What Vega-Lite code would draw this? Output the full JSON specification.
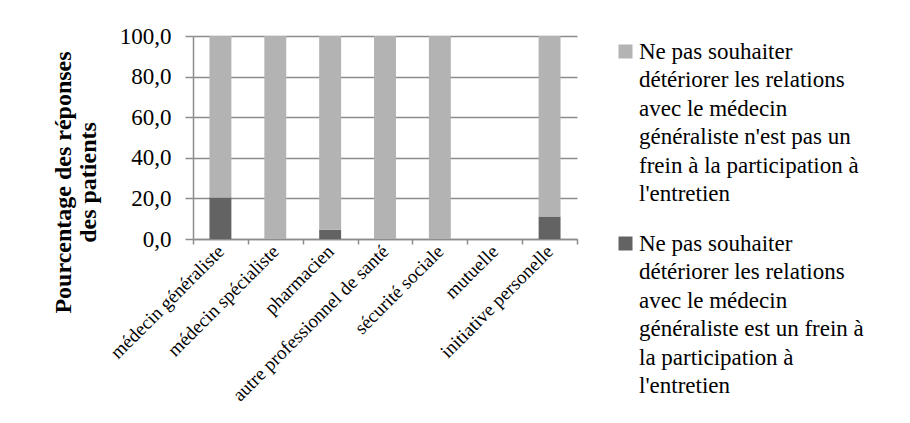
{
  "$schema": "https://vega.github.io/schema/vega-lite/v6.json",
  "autosize": "none",
  "width": 384,
  "height": 203,
  "padding": {"left": 193, "top": 36, "right": 333, "bottom": 184},
  "background": "white",
  "config": {
    "view": {"stroke": null},
    "font": "Liberation Serif",
    "legend": {"labelFont": "Liberation Serif"}
  },
  "data": {
    "values": [
      {"categorie": "médecin généraliste", "serie": "Ne pas souhaiter détériorer les relations avec le médecin généraliste est un frein à la participation à l'entretien", "pourcentage": 20.5},
      {"categorie": "médecin généraliste", "serie": "Ne pas souhaiter détériorer les relations avec le médecin généraliste n'est pas un frein à la participation à l'entretien", "pourcentage": 79.5},
      {"categorie": "médecin spécialiste", "serie": "Ne pas souhaiter détériorer les relations avec le médecin généraliste est un frein à la participation à l'entretien", "pourcentage": 0},
      {"categorie": "médecin spécialiste", "serie": "Ne pas souhaiter détériorer les relations avec le médecin généraliste n'est pas un frein à la participation à l'entretien", "pourcentage": 100},
      {"categorie": "pharmacien", "serie": "Ne pas souhaiter détériorer les relations avec le médecin généraliste est un frein à la participation à l'entretien", "pourcentage": 4.5},
      {"categorie": "pharmacien", "serie": "Ne pas souhaiter détériorer les relations avec le médecin généraliste n'est pas un frein à la participation à l'entretien", "pourcentage": 95.5},
      {"categorie": "autre professionnel de santé", "serie": "Ne pas souhaiter détériorer les relations avec le médecin généraliste est un frein à la participation à l'entretien", "pourcentage": 0},
      {"categorie": "autre professionnel de santé", "serie": "Ne pas souhaiter détériorer les relations avec le médecin généraliste n'est pas un frein à la participation à l'entretien", "pourcentage": 100},
      {"categorie": "sécurité sociale", "serie": "Ne pas souhaiter détériorer les relations avec le médecin généraliste est un frein à la participation à l'entretien", "pourcentage": 0},
      {"categorie": "sécurité sociale", "serie": "Ne pas souhaiter détériorer les relations avec le médecin généraliste n'est pas un frein à la participation à l'entretien", "pourcentage": 100},
      {"categorie": "mutuelle", "serie": "Ne pas souhaiter détériorer les relations avec le médecin généraliste est un frein à la participation à l'entretien", "pourcentage": 0},
      {"categorie": "mutuelle", "serie": "Ne pas souhaiter détériorer les relations avec le médecin généraliste n'est pas un frein à la participation à l'entretien", "pourcentage": 0},
      {"categorie": "initiative personelle", "serie": "Ne pas souhaiter détériorer les relations avec le médecin généraliste est un frein à la participation à l'entretien", "pourcentage": 11.1},
      {"categorie": "initiative personelle", "serie": "Ne pas souhaiter détériorer les relations avec le médecin généraliste n'est pas un frein à la participation à l'entretien", "pourcentage": 88.9}
    ]
  },
  "mark": {"type": "bar", "width": {"band": 0.4}},
  "encoding": {
    "x": {
      "field": "categorie",
      "type": "nominal",
      "sort": null,
      "scale": {"paddingInner": 0, "paddingOuter": 0},
      "axis": {
        "title": null,
        "labelAngle": -45,
        "labelAlign": "right",
        "labelBaseline": "middle",
        "labelFont": "Liberation Serif",
        "labelFontSize": 19,
        "labelColor": "#000000",
        "labelPadding": 4,
        "labelLimit": 400,
        "tickBand": "extent",
        "tickSize": 5,
        "tickColor": "#8c8c8c",
        "tickWidth": 1.5,
        "domainColor": "#8c8c8c",
        "domainWidth": 1.5,
        "grid": false
      }
    },
    "y": {
      "field": "pourcentage",
      "type": "quantitative",
      "stack": "zero",
      "scale": {"domain": [0, 100], "nice": false},
      "axis": {
        "values": [0, 20, 40, 60, 80, 100],
        "labelExpr": "replace(format(datum.value, '.1f'), '.', ',')",
        "labelFont": "Liberation Serif",
        "labelFontSize": 23,
        "labelColor": "#000000",
        "labelPadding": 14,
        "tickSize": 8,
        "tickColor": "#8c8c8c",
        "tickWidth": 1.5,
        "domainColor": "#8c8c8c",
        "domainWidth": 1.5,
        "grid": true,
        "gridColor": "#8c8c8c",
        "gridWidth": 1.5,
        "title": ["Pourcentage des réponses", "des patients"],
        "titleFont": "Liberation Serif",
        "titleFontSize": 24,
        "titleFontWeight": "bold",
        "titleColor": "#000000",
        "titleAngle": -90,
        "titleAlign": "center",
        "titleBaseline": "alphabetic",
        "titleLineHeight": 25,
        "titleX": -123,
        "titleY": 146
      }
    },
    "color": {
      "field": "serie",
      "type": "nominal",
      "scale": {
        "domain": [
          "Ne pas souhaiter détériorer les relations avec le médecin généraliste n'est pas un frein à la participation à l'entretien",
          "Ne pas souhaiter détériorer les relations avec le médecin généraliste est un frein à la participation à l'entretien"
        ],
        "range": ["#b3b3b3", "#636363"]
      },
      "legend": {
        "title": null,
        "orient": "none",
        "legendX": 421,
        "legendY": 4,
        "padding": 0,
        "symbolType": "square",
        "symbolSize": 196,
        "symbolStrokeWidth": 0,
        "labelFont": "Liberation Serif",
        "labelFontSize": 23,
        "labelLineHeight": 28.5,
        "labelColor": "#000000",
        "labelOffset": 2,
        "labelLimit": 400,
        "labelBaseline": "middle",
        "rowPadding": 26,
        "labelExpr": "datum.index == 0 ? ['Ne pas souhaiter', 'détériorer les relations', 'avec le médecin', \"généraliste n'est pas un\", 'frein à la participation à', \"l'entretien\"] : ['Ne pas souhaiter', 'détériorer les relations', 'avec le médecin', 'généraliste est un frein à', 'la participation à', \"l'entretien\"]",
        "encode": {
          "labels": {
            "update": {
              "font": {"value": "Liberation Serif"},
              "lineHeight": {"value": 28.5}
            }
          }
        }
      }
    },
    "order": {"field": "serie", "sort": "ascending"}
  }
}
